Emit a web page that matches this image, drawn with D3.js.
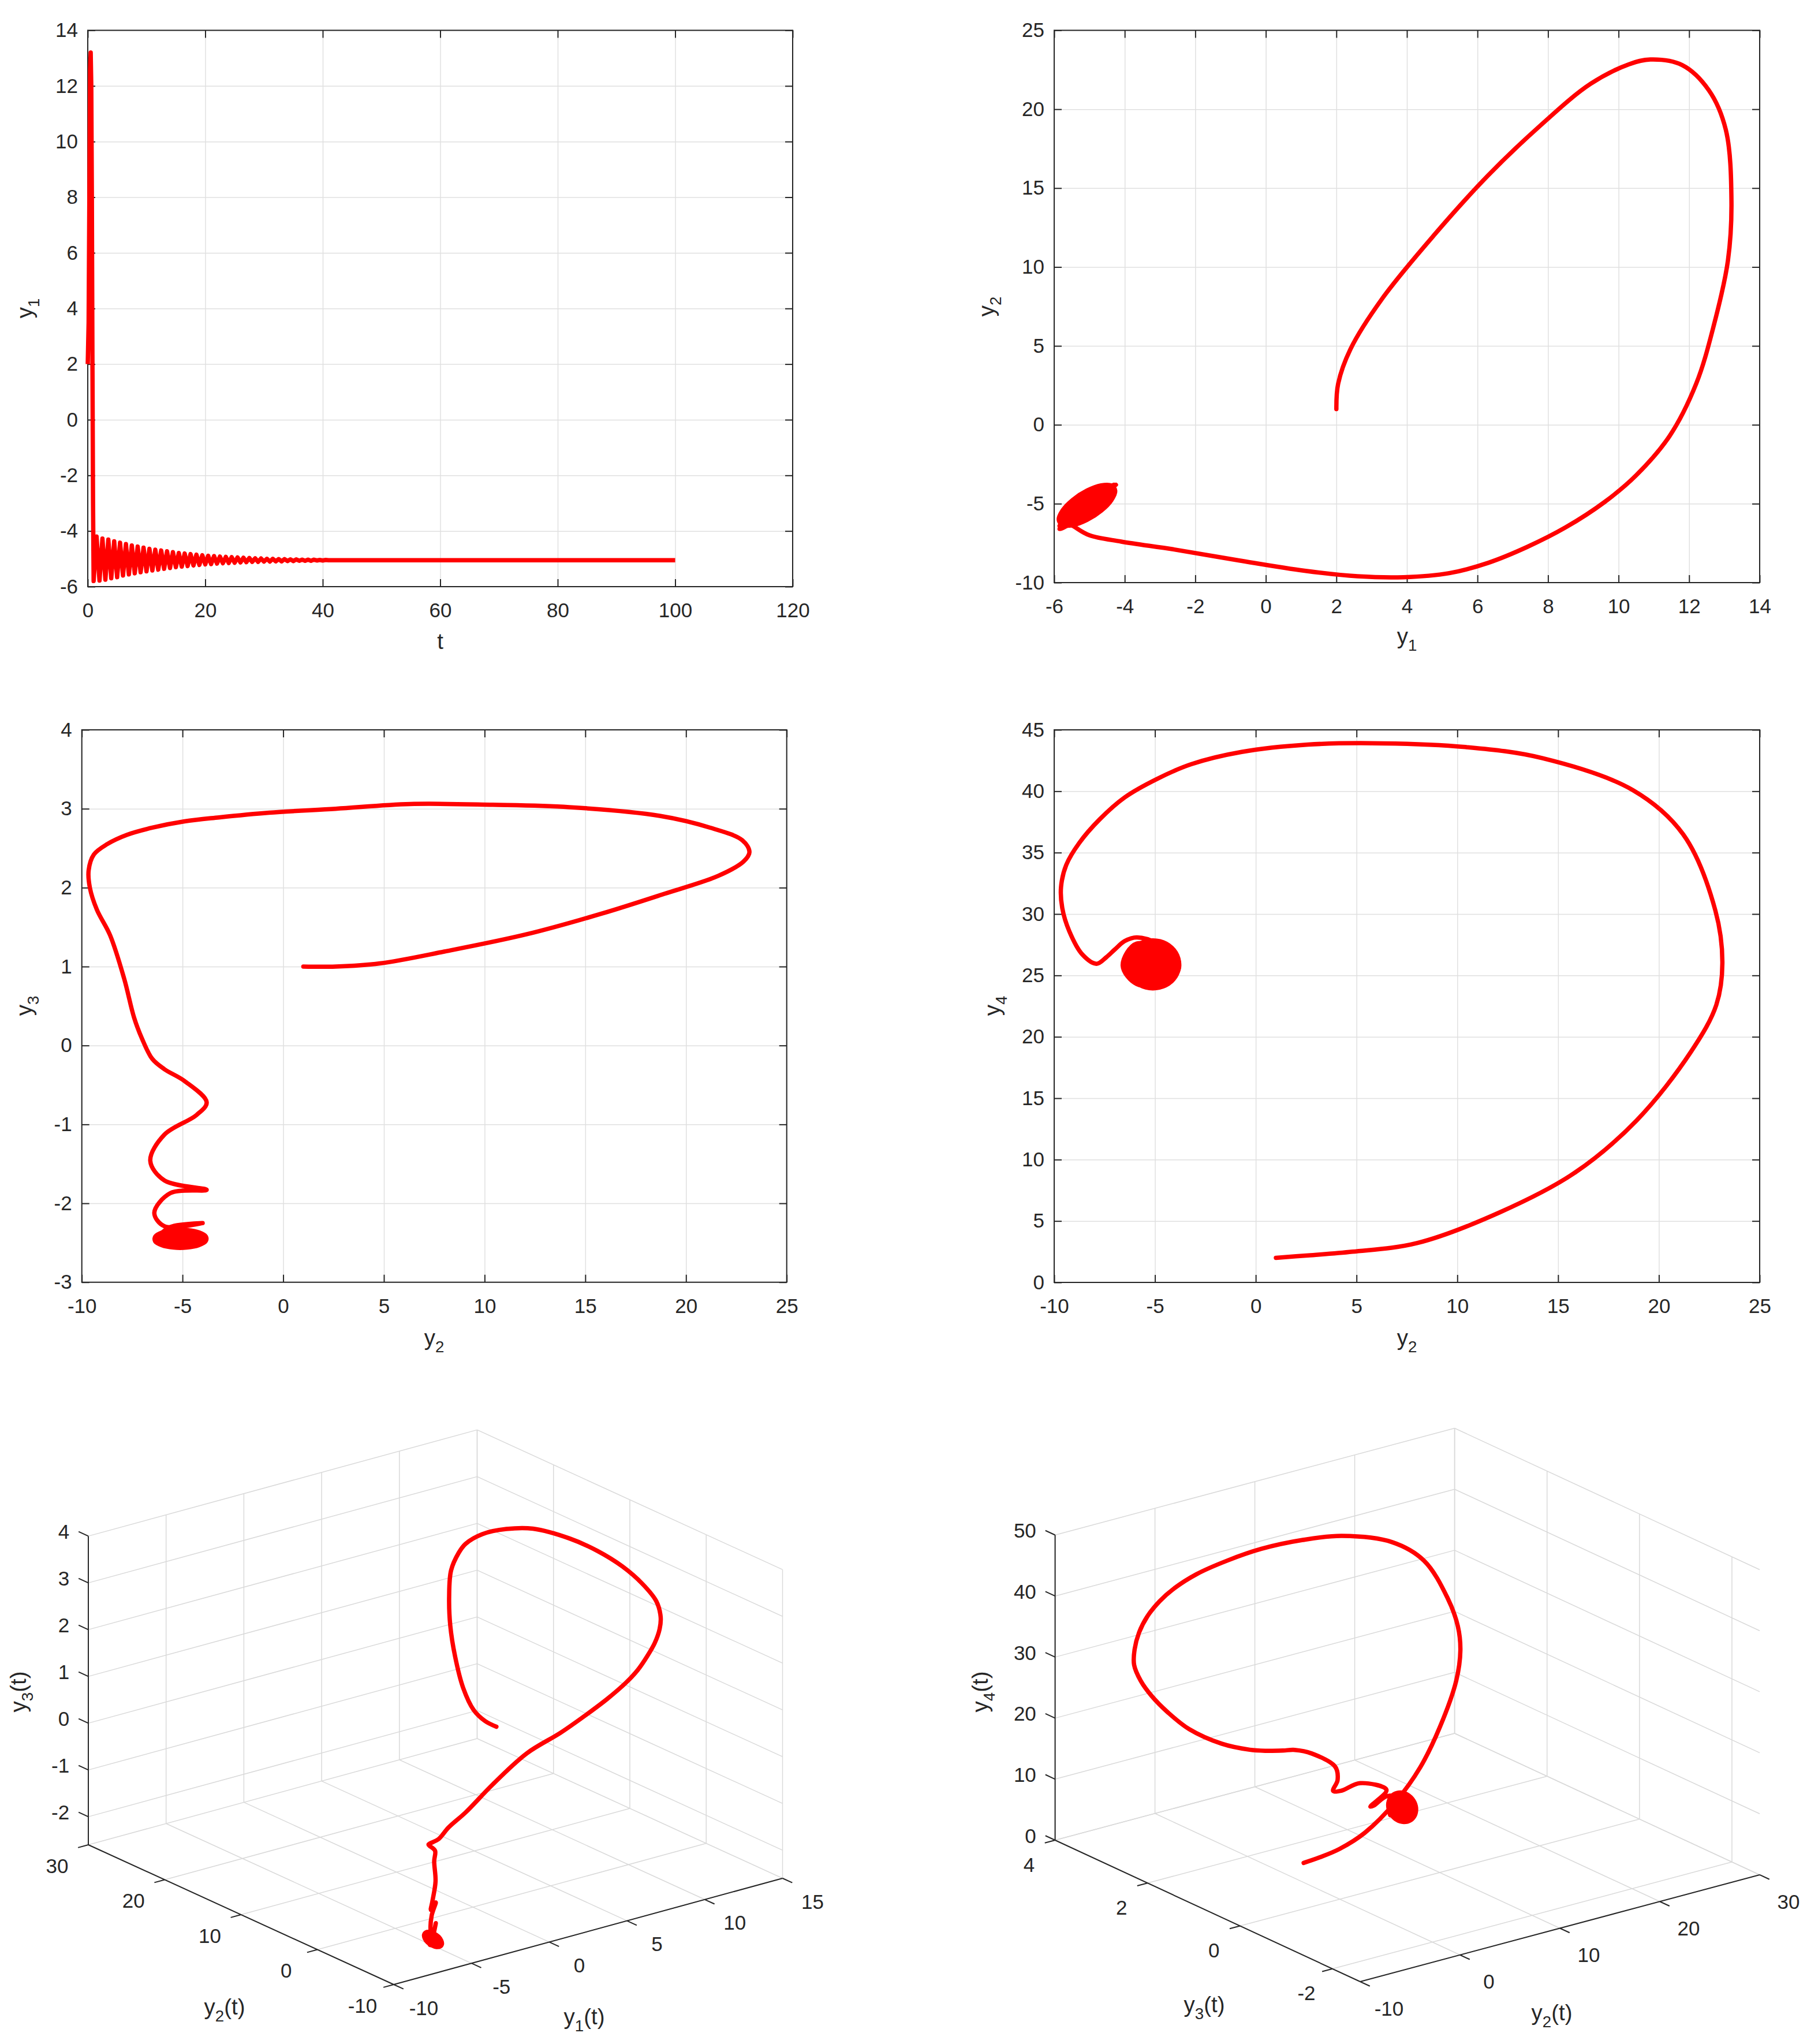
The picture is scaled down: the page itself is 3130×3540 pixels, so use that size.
<!DOCTYPE html>
<html><head><meta charset="utf-8">
<script src="https://cdn.jsdelivr.net/npm/d3@7"></script>
<style>
body{margin:0;background:#fff}
text{font-family:"Liberation Sans",Arial,Helvetica,sans-serif;fill:#262626}
</style>
</head><body>
<svg id="c" width="3130" height="3540"></svg>
<script>
// ---------------- DATA ----------------
// time series y1(t): spike, then decaying oscillation (peaks / troughs), then steady state
const timeT = [0, 0.15, 0.3, 0.4, 0.5, 0.6, 0.7, 0.8, 0.9, 1,
  1.5, 2, 2.5, 3, 3.5, 4, 4.5, 5, 5.5, 6, 6.5, 7, 7.5, 8, 8.5, 9, 9.5, 10,
  10.5, 11, 11.5, 12, 12.5, 13, 13.5, 14, 14.5, 15, 15.5, 16, 16.5, 17, 17.5, 18, 18.5, 19, 19.5, 20,
  20.5, 21, 21.5, 22, 22.5, 23, 23.5, 24, 24.5, 25, 25.5, 26, 26.5, 27, 27.5, 28, 28.5, 29, 29.5, 30,
  30.5, 31, 31.5, 32, 32.5, 33, 33.5, 34, 34.5, 35, 35.5, 36, 36.5, 37, 37.5, 38, 38.5, 39, 39.5, 40,
  40.5, 41, 100];
const timeY1 = [2.0, 3.5, 9.0, 12.6, 13.2, 12.0, 8.0, 2.0, -3.0, -5.8,
  -4.2, -5.78, -4.27, -5.75, -4.31, -5.7, -4.37, -5.66, -4.42, -5.6, -4.47, -5.56, -4.52, -5.52, -4.56, -5.48, -4.6, -5.45,
  -4.64, -5.42, -4.67, -5.39, -4.7, -5.36, -4.73, -5.33, -4.76, -5.3, -4.79, -5.28, -4.81, -5.26, -4.83, -5.24, -4.85, -5.22, -4.87, -5.2,
  -4.89, -5.19, -4.9, -5.17, -4.92, -5.16, -4.93, -5.15, -4.94, -5.14, -4.95, -5.13, -4.96, -5.12, -4.97, -5.11, -4.98, -5.11, -4.99, -5.1,
  -5.0, -5.1, -5.0, -5.09, -5.01, -5.09, -5.01, -5.08, -5.02, -5.08, -5.02, -5.07, -5.03, -5.07, -5.03, -5.07, -5.03, -5.06, -5.04, -5.06,
  -5.04, -5.05, -5.05];

// trajectory samples (common to all phase plots)
const trajY1 = [2.0, 2.05, 2.4, 3.3, 4.8, 6.3, 7.75, 9.2, 10.3, 10.9, 11.8, 12.56, 13.04, 13.2, 13.1, 12.7, 12.2, 11.45, 10.5, 9.6, 8.5, 7.4, 6.3, 5.2, 3.9, 2.6, 1.1, -0.75, -2.6, -4.1, -5.0, -5.4, -5.75, -5.2, -4.3, -4.6, -5.3, -5.85, -5.6, -4.25, -5.4, -5.85, -5.5, -4.35, -5.3, -5.8];
const trajY2 = [1.0, 2.6, 4.8, 8.0, 12.1, 15.8, 18.9, 21.6, 22.85, 23.15, 22.8, 21.2, 18.7, 14.2, 10.4, 6.3, 2.6, -0.7, -3.2, -4.9, -6.5, -7.75, -8.75, -9.4, -9.66, -9.6, -9.25, -8.6, -7.9, -7.4, -7.0, -6.5, -5.9, -4.9, -3.8, -4.3, -5.9, -6.6, -5.9, -3.8, -5.6, -6.4, -5.9, -4.0, -5.6, -6.2];
const trajY3 = [1.0, 1.0, 1.04, 1.19, 1.41, 1.67, 1.92, 2.15, 2.33, 2.45, 2.6, 2.76, 2.91, 3.02, 3.05, 3.06, 3.0, 2.95, 2.89, 2.84, 2.76, 2.67, 2.55, 2.42, 2.22, 2.0, 1.72, 1.4, 0.85, 0.35, 0.08, -0.17, -0.3, -0.45, -0.72, -0.88, -1.13, -1.46, -1.71, -1.83, -1.87, -2.12, -2.29, -2.25, -2.3, -2.42];
const trajY4 = [2.0, 2.2, 2.5, 3.2, 5.7, 8.9, 13.2, 18.8, 22.6, 26.0, 30.3, 36.5, 40.1, 42.7, 43.6, 43.9, 43.8, 43.2, 42.2, 41.0, 39.5, 37.7, 35.8, 34.0, 32.2, 30.5, 28.6, 26.7, 25.95, 26.5, 27.1, 27.8, 28.1, 27.6, 25.9, 24.5, 24.3, 25.8, 27.6, 26.0, 24.2, 25.6, 27.5, 26.2, 24.3, 25.5];

// final decaying cycle (filled region)
const cycleY1 = [-4.27, -4.38, -4.67, -5.07, -5.47, -5.76, -5.87, -5.76, -5.47, -5.07, -4.67, -4.38];
const cycleY2 = [-4.19, -3.85, -3.84, -4.17, -4.75, -5.42, -6.01, -6.35, -6.36, -6.03, -5.45, -4.78];
const cycleY3 = [-2.53, -2.48, -2.42, -2.37, -2.34, -2.34, -2.37, -2.42, -2.48, -2.53, -2.56, -2.56];
const cycleY4 = [24.50, 25.37, 26.38, 27.26, 27.78, 27.79, 27.30, 26.43, 25.42, 24.54, 24.02, 24.01];

// tick values
const p1XTicks = [0, 20, 40, 60, 80, 100, 120];
const p1YTicks = [-6, -4, -2, 0, 2, 4, 6, 8, 10, 12, 14];
const p2XTicks = [-6, -4, -2, 0, 2, 4, 6, 8, 10, 12, 14];
const p2YTicks = [-10, -5, 0, 5, 10, 15, 20, 25];
const p3XTicks = [-10, -5, 0, 5, 10, 15, 20, 25];
const p3YTicks = [-3, -2, -1, 0, 1, 2, 3, 4];
const p4XTicks = [-10, -5, 0, 5, 10, 15, 20, 25];
const p4YTicks = [0, 5, 10, 15, 20, 25, 30, 35, 40, 45];
const p5Y1Ticks = [-10, -5, 0, 5, 10, 15];
const p5Y2Ticks = [-10, 0, 10, 20, 30];
const p5Y3Ticks = [-2, -1, 0, 1, 2, 3, 4];
const p6Y2Ticks = [-10, 0, 10, 20, 30];
const p6Y3Ticks = [-2, 0, 2, 4];
const p6Y4Ticks = [0, 10, 20, 30, 40, 50];

// ---------------- DRAWING ----------------
const svg = d3.select("#c");
svg.append("rect").attr("width", 3130).attr("height", 3540).attr("fill", "#fff");
const AX = "#262626", GRID = "#e0e0e0", GRID3 = "#d9d9d9", RED = "#ff0000";
const FONT = 35, LFONT = 38.5, LW = 7.5;
const fmt = d => String(d);

function addLabel(g, x, y, base, sub, tail, rot) {
  const t = g.append("text").attr("text-anchor", "middle").attr("font-size", LFONT)
    .attr("transform", `translate(${x},${y})` + (rot ? " rotate(-90)" : ""));
  t.append("tspan").text(base);
  t.append("tspan").attr("font-size", LFONT * 0.72).attr("dy", LFONT * 0.3).text(sub);
  if (tail) t.append("tspan").attr("dy", -LFONT * 0.3).text(tail);
}

function styleAxis(s, showText) {
  s.select(".domain").remove();
  s.selectAll(".tick line").attr("stroke", AX).attr("stroke-width", 2);
  if (showText) s.selectAll(".tick text").attr("font-size", FONT).attr("fill", AX)
    .style("font-family", '"Liberation Sans",Arial,sans-serif');
  else s.selectAll(".tick text").remove();
}

function panel2D(c) {
  const g = svg.append("g");
  const x = d3.scaleLinear().domain(c.xd).range([c.l, c.r]);
  const y = d3.scaleLinear().domain(c.yd).range([c.b, c.t]);
  const H = c.b - c.t, W = c.r - c.l;
  g.append("g").attr("transform", `translate(0,${c.b})`)
    .call(d3.axisBottom(x).tickValues(c.xt).tickSize(-H).tickSizeOuter(0).tickFormat(""))
    .call(s => { s.select(".domain").remove(); s.selectAll("line").attr("stroke", GRID).attr("stroke-width", 1.5); });
  g.append("g").attr("transform", `translate(${c.l},0)`)
    .call(d3.axisLeft(y).tickValues(c.yt).tickSize(-W).tickSizeOuter(0).tickFormat(""))
    .call(s => { s.select(".domain").remove(); s.selectAll("line").attr("stroke", GRID).attr("stroke-width", 1.5); });
  g.append("rect").attr("x", c.l).attr("y", c.t).attr("width", W).attr("height", H)
    .attr("fill", "none").attr("stroke", AX).attr("stroke-width", 2);
  g.append("g").attr("transform", `translate(0,${c.b})`)
    .call(d3.axisBottom(x).tickValues(c.xt).tickSize(-13).tickSizeOuter(0).tickPadding(28).tickFormat(fmt))
    .call(s => styleAxis(s, true));
  g.append("g").attr("transform", `translate(0,${c.t})`)
    .call(d3.axisTop(x).tickValues(c.xt).tickSize(-13).tickSizeOuter(0))
    .call(s => styleAxis(s, false));
  g.append("g").attr("transform", `translate(${c.l},0)`)
    .call(d3.axisLeft(y).tickValues(c.yt).tickSize(-13).tickSizeOuter(0).tickPadding(17).tickFormat(fmt))
    .call(s => styleAxis(s, true));
  g.append("g").attr("transform", `translate(${c.r},0)`)
    .call(d3.axisRight(y).tickValues(c.yt).tickSize(-13).tickSizeOuter(0))
    .call(s => styleAxis(s, false));
  c.draw(g, x, y);
  addLabel(g, c.xl[0], c.xl[1], c.xlab[0], c.xlab[1], null, false);
  addLabel(g, c.yl[0], c.yl[1], c.ylab[0], c.ylab[1], null, true);
}

const pathStyle = sel => sel.attr("fill", "none").attr("stroke", RED).attr("stroke-width", LW)
  .attr("stroke-linejoin", "round").attr("stroke-linecap", "round");

function phase2D(g, x, y, A, B, CA, CB) {
  const pts = A.map((v, i) => [x(v), y(B[i])]);
  const cyc = CA.map((v, i) => [x(v), y(CB[i])]);
  g.append("path").attr("d", d3.line().curve(d3.curveCatmullRomClosed)(cyc))
    .attr("fill", RED).attr("stroke", RED).attr("stroke-width", LW);
  g.append("path").attr("d", d3.line().curve(d3.curveCatmullRom)(pts)).call(pathStyle);
}

panel2D({
  l: 152, r: 1373, t: 52.5, b: 1016, xd: [0, 120], yd: [-6, 14], xt: p1XTicks, yt: p1YTicks,
  xl: [762.5, 1124], xlab: ["t", ""], yl: [56, 534], ylab: ["y", "1"],
  draw: (g, x, y) => {
    const pts = timeT.map((t, i) => [x(t), y(timeY1[i])]);
    g.append("path").attr("d", d3.line().defined(d => Number.isFinite(d[1]))(pts)).call(pathStyle)
      .attr("stroke-linecap", "butt");
  }
});
panel2D({
  l: 1826, r: 3048, t: 52.5, b: 1009, xd: [-6, 14], yd: [-10, 25], xt: p2XTicks, yt: p2YTicks,
  xl: [2437, 1115], xlab: ["y", "1"], yl: [1722, 531], ylab: ["y", "2"],
  draw: (g, x, y) => phase2D(g, x, y, trajY1, trajY2, cycleY1, cycleY2)
});
panel2D({
  l: 141.7, r: 1362.7, t: 1264, b: 2220.7, xd: [-10, 25], yd: [-3, 4], xt: p3XTicks, yt: p3YTicks,
  xl: [752, 2330], xlab: ["y", "2"], yl: [55, 1742], ylab: ["y", "3"],
  draw: (g, x, y) => phase2D(g, x, y, trajY2, trajY3, cycleY2, cycleY3)
});
panel2D({
  l: 1826, r: 3048, t: 1264, b: 2221, xd: [-10, 25], yd: [0, 45], xt: p4XTicks, yt: p4YTicks,
  xl: [2437, 2330], xlab: ["y", "2"], yl: [1732, 1742], ylab: ["y", "4"],
  draw: (g, x, y) => phase2D(g, x, y, trajY2, trajY4, cycleY2, cycleY4)
});

function panel3D(c) {
  const g = svg.append("g");
  const sx = d3.scaleLinear().domain(c.xd).range([0, 1]);
  const sy = d3.scaleLinear().domain(c.yd).range([0, 1]);
  const sz = d3.scaleLinear().domain(c.zd).range([0, 1]);
  const VX = [c.X[0] - c.O[0], c.X[1] - c.O[1]], VY = [c.Y[0] - c.O[0], c.Y[1] - c.O[1]], VZ = [0, -c.H];
  const P = (a, b, z) => [c.O[0] + sx(a) * VX[0] + sy(b) * VY[0] + sz(z) * VZ[0],
                          c.O[1] + sx(a) * VX[1] + sy(b) * VY[1] + sz(z) * VZ[1]];
  const [x0, x1] = c.xd, [y0, y1] = c.yd, [z0, z1] = c.zd;
  const segs = [];
  c.xt.forEach(v => segs.push([P(v, y0, z0), P(v, y1, z0)]));
  c.yt.forEach(v => segs.push([P(x0, v, z0), P(x1, v, z0)]));
  c.xt.forEach(v => segs.push([P(v, y1, z0), P(v, y1, z1)]));
  c.zt.forEach(v => segs.push([P(x0, y1, v), P(x1, y1, v)]));
  c.yt.forEach(v => segs.push([P(x1, v, z0), P(x1, v, z1)]));
  c.zt.forEach(v => segs.push([P(x1, y0, v), P(x1, y1, v)]));
  g.append("g").selectAll("line").data(segs).join("line")
    .attr("x1", d => d[0][0]).attr("y1", d => d[0][1]).attr("x2", d => d[1][0]).attr("y2", d => d[1][1])
    .attr("stroke", GRID3).attr("stroke-width", 1.5);
  const axes = [[P(x0, y0, z0), P(x1, y0, z0)], [P(x0, y0, z0), P(x0, y1, z0)], [P(x0, y1, z0), P(x0, y1, z1)]];
  const nrm = v => { const L = Math.hypot(v[0], v[1]); return [v[0] / L, v[1] / L]; };
  const dX = nrm([-VY[0], -VY[1]]), dY = nrm([-VX[0], -VX[1]]), dZ = nrm(VY);
  const TL = 18.5;
  const ticks = [];
  c.xt.forEach(v => { const p = P(v, y0, z0); ticks.push([p, [p[0] + dX[0] * TL, p[1] + dX[1] * TL]]); });
  c.yt.forEach(v => { const p = P(x0, v, z0); ticks.push([p, [p[0] + dY[0] * TL, p[1] + dY[1] * TL]]); });
  c.zt.forEach(v => { const p = P(x0, y1, v); ticks.push([p, [p[0] + dZ[0] * TL, p[1] + dZ[1] * TL]]); });
  g.append("g").selectAll("line").data(axes.concat(ticks)).join("line")
    .attr("x1", d => d[0][0]).attr("y1", d => d[0][1]).attr("x2", d => d[1][0]).attr("y2", d => d[1][1])
    .attr("stroke", AX).attr("stroke-width", 2);
  const tl = g.append("g").attr("font-size", FONT);
  tl.selectAll(".tx").data(c.xt).join("text").attr("text-anchor", "middle")
    .attr("x", v => P(v, y0, z0)[0] + c.xOff[0]).attr("y", v => P(v, y0, z0)[1] + c.xOff[1]).attr("dy", "0.36em").text(fmt);
  tl.selectAll(".ty").data(c.yt).join("text").attr("text-anchor", "middle")
    .attr("x", v => P(x0, v, z0)[0] + c.yOff[0]).attr("y", v => P(x0, v, z0)[1] + c.yOff[1]).attr("dy", "0.36em").text(fmt);
  tl.selectAll(".tz").data(c.zt).join("text").attr("text-anchor", "end")
    .attr("x", v => P(x0, y1, v)[0] + dZ[0] * TL - 16).attr("y", v => P(x0, y1, v)[1] + dZ[1] * TL).attr("dy", "0.36em").text(fmt);
  const pts = c.A.map((v, i) => P(v, c.B[i], c.C[i]));
  const cyc = c.CA.map((v, i) => P(v, c.CB[i], c.CC[i]));
  g.append("path").attr("d", d3.line().curve(d3.curveCatmullRomClosed)(cyc))
    .attr("fill", RED).attr("stroke", RED).attr("stroke-width", LW);
  g.append("path").attr("d", d3.line().curve(d3.curveCatmullRom)(pts)).call(pathStyle);
  c.labels.forEach(L => addLabel(g, L[0], L[1], "y", L[2], "(t)", L[3]));
}

panel3D({
  O: [682, 3437], X: [1355.5, 3253], Y: [153, 3195], H: 534.6,
  xd: [-10, 15], yd: [-10, 30], zd: [-2.6, 4], xt: p5Y1Ticks, yt: p5Y2Ticks, zt: p5Y3Ticks,
  xOff: [52, 40], yOff: [-54, 36],
  A: trajY1, B: trajY2, C: trajY3, CA: cycleY1, CB: cycleY2, CC: cycleY3,
  labels: [[45, 2930, "3", true], [389, 3489, "2", false], [1012, 3506, "1", false]]
});
panel3D({
  O: [2356, 3432], X: [3048, 3247], Y: [1827.6, 3187], H: 528.5,
  xd: [-10, 30], yd: [-2.6, 4], zd: [0, 50], xt: p6Y2Ticks, yt: p6Y3Ticks, zt: p6Y4Ticks,
  xOff: [50, 46], yOff: [-45, 42],
  A: trajY2, B: trajY3, C: trajY4, CA: cycleY2, CB: cycleY3, CC: cycleY4,
  labels: [[1711, 2930, "4", true], [2086, 3485, "3", false], [2688, 3499, "2", false]]
});
</script>
</body></html>
